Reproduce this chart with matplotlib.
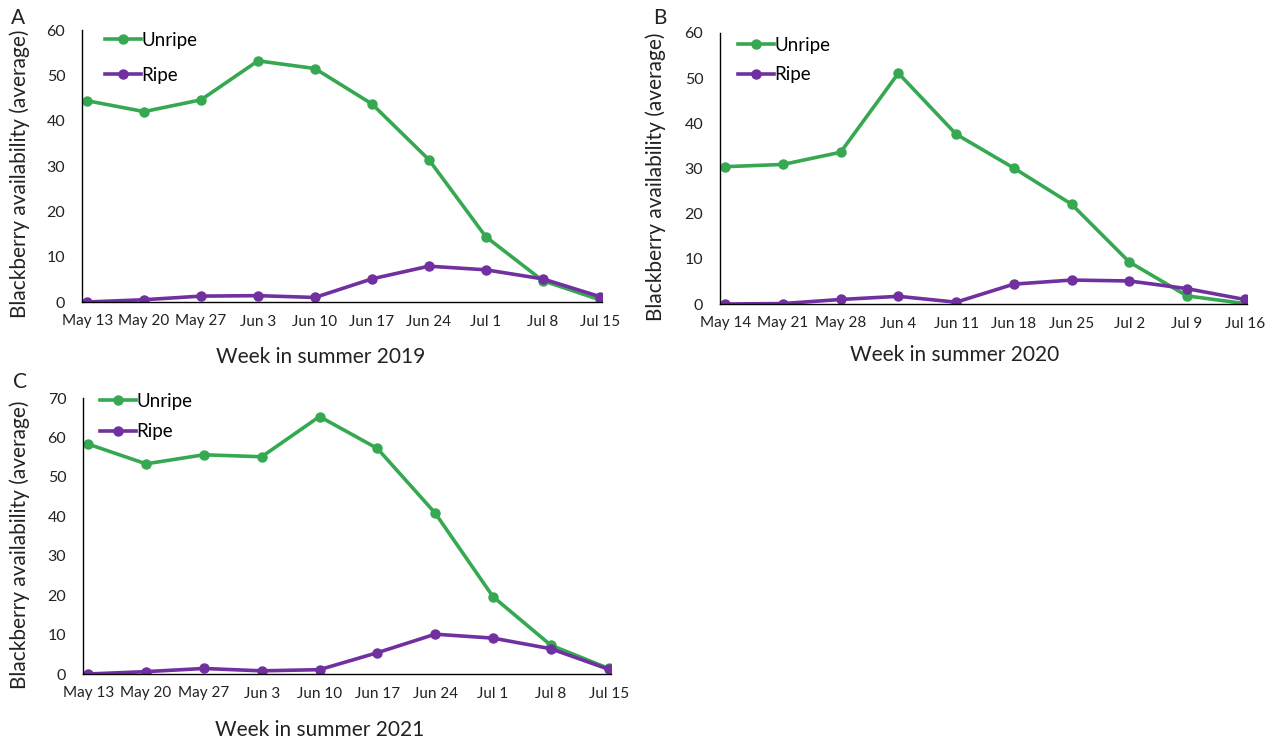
import matplotlib
matplotlib.use("Agg")
import matplotlib.pyplot as plt

plt.rcParams['font.family'] = ['Lato', 'DejaVu Sans']

# weekly averages per season
weeks_2019 = ["May 13", "May 20", "May 27", "Jun 3", "Jun 10", "Jun 17", "Jun 24", "Jul 1", "Jul 8", "Jul 15"]
unripe_2019 = [44.4, 42.0, 44.6, 53.2, 51.5, 43.7, 31.4, 14.4, 4.7, 0.5]
ripe_2019 = [0.0, 0.5, 1.3, 1.4, 1.0, 5.1, 7.9, 7.1, 5.1, 1.2]

weeks_2020 = ["May 14", "May 21", "May 28", "Jun 4", "Jun 11", "Jun 18", "Jun 25", "Jul 2", "Jul 9", "Jul 16"]
unripe_2020 = [30.4, 30.9, 33.6, 51.1, 37.6, 30.1, 22.1, 9.3, 1.8, 0.1]
ripe_2020 = [0.0, 0.1, 1.0, 1.7, 0.4, 4.4, 5.3, 5.1, 3.4, 1.0]

weeks_2021 = ["May 13", "May 20", "May 27", "Jun 3", "Jun 10", "Jun 17", "Jun 24", "Jul 1", "Jul 8", "Jul 15"]
unripe_2021 = [58.3, 53.3, 55.6, 55.1, 65.3, 57.2, 40.8, 19.6, 7.3, 1.4]
ripe_2021 = [0.0, 0.6, 1.4, 0.8, 1.1, 5.4, 10.1, 9.1, 6.4, 1.2]

GREEN = "#36a852"
PURPLE = "#7030a0"
TXT = "#222222"

W, H = 1280, 745
fig = plt.figure(figsize=(12.8, 7.45), dpi=100)


def px_axes(x0, y0, x1, y1):
    # pixel box -> figure fraction
    return fig.add_axes([x0 / W, 1 - y1 / H, (x1 - x0) / W, (y1 - y0) / H])


def draw_panel(box, weeks, unripe, ripe, ymax, year, letter, leg_xy, leg_sp, xlab_xy, ylab_x, letter_xy):
    x0, y0, x1, y1 = box
    ax = px_axes(x0, y0, x1, y1)
    bw, bh = x1 - x0, y1 - y0
    x = list(range(len(weeks)))
    ax.plot(x, unripe, color=GREEN, lw=2.6, marker="o", ms=6.5, label="Unripe")
    ax.plot(x, ripe, color=PURPLE, lw=2.6, marker="o", ms=6.5, label="Ripe")
    ax.set_xlim(-0.09, len(weeks) - 1 + 0.04)
    ax.set_ylim(0, ymax)
    ax.set_yticks(range(0, ymax + 1, 10))
    ax.set_xticks(x)
    ax.set_xticklabels(weeks)
    ax.spines[["top", "right"]].set_visible(False)
    ax.spines["left"].set_linewidth(1.0)
    ax.spines["bottom"].set_linewidth(1.0)
    ax.tick_params(axis="x", length=0, pad=9, labelsize=11, colors=TXT)
    ax.tick_params(axis="y", length=0, pad=12, labelsize=11.5, colors=TXT)
    ax.set_ylabel("Blackberry availability (average)", fontsize=15, color=TXT, va="center")
    ax.yaxis.set_label_coords((ylab_x - x0) / bw, 0.47)
    ax.set_xlabel("Week in summer " + year, fontsize=15, color=TXT, va="center")
    ax.xaxis.set_label_coords((xlab_xy[0] - x0) / bw, (y1 - xlab_xy[1]) / bh)
    ax.legend(loc="upper left", bbox_to_anchor=((leg_xy[0] - x0) / bw, (y1 - leg_xy[1]) / bh),
              frameon=False, fontsize=13.5, handlelength=1.9, handletextpad=0.05,
              labelspacing=leg_sp, borderpad=0, borderaxespad=0)
    ax.text((letter_xy[0] - x0) / bw, (y1 - letter_xy[1]) / bh, letter, transform=ax.transAxes,
            fontsize=15, color=TXT, ha="center", va="center")
    return ax


draw_panel((82, 30, 602, 302), weeks_2019, unripe_2019, ripe_2019, 60, "2019", "A",
           leg_xy=(105, 32), leg_sp=0.95, xlab_xy=(321, 357), ylab_x=20, letter_xy=(18, 18))

draw_panel((720, 33, 1247, 304), weeks_2020, unripe_2020, ripe_2020, 60, "2020", "B",
           leg_xy=(738, 37), leg_sp=0.65, xlab_xy=(955, 355), ylab_x=656, letter_xy=(660, 18))

draw_panel((83, 398, 611, 674), weeks_2021, unripe_2021, ripe_2021, 70, "2021", "C",
           leg_xy=(100, 393), leg_sp=0.7, xlab_xy=(320, 730), ylab_x=20, letter_xy=(20, 382))

fig.savefig("out.png", dpi=100)
